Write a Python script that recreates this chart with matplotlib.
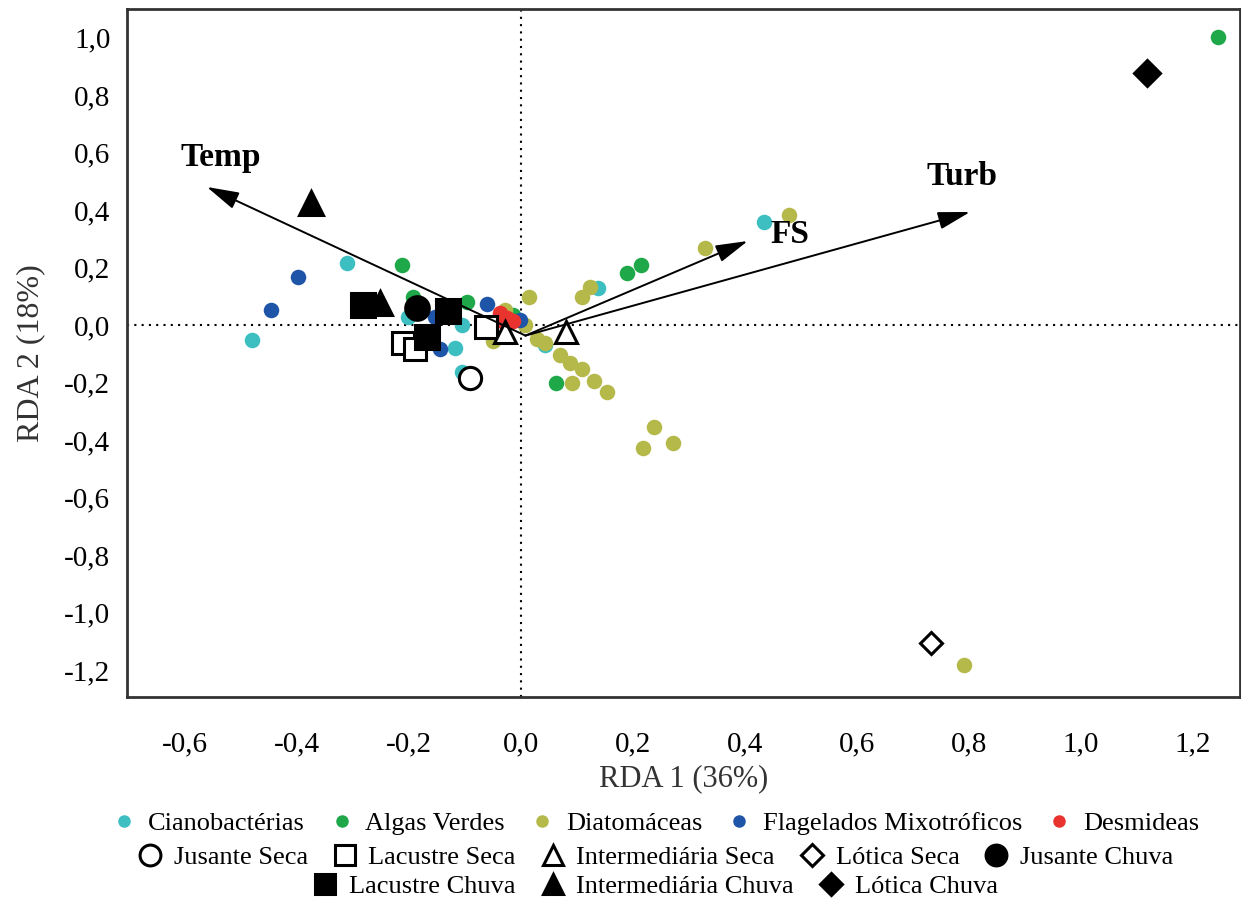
import numpy as np
import matplotlib.pyplot as plt
from matplotlib.lines import Line2D

plt.rcParams['font.family'] = ['Liberation Serif', 'DejaVu Serif']

# species scores (RDA 1, RDA 2) by group
ciano_x = [-0.480, -0.311, -0.202, -0.105, -0.118, -0.105, 0.043, 0.138, 0.434]
ciano_y = [-0.052, 0.216, 0.028, 0.000, -0.080, -0.163, -0.070, 0.129, 0.358]

verdes_x = [1.245, -0.213, -0.193, -0.096, -0.014, 0.063, 0.189, 0.214]
verdes_y = [1.002, 0.209, 0.097, 0.080, 0.035, -0.202, 0.181, 0.209]

diato_x = [0.014, 0.109, 0.123, 0.329, 0.479, 0.791, -0.050, -0.029, 0.007, 0.029,
           0.043, 0.070, 0.088, 0.109, 0.091, 0.130, 0.154, 0.238, 0.218, 0.271]
diato_y = [0.097, 0.097, 0.132, 0.268, 0.383, -1.183, -0.056, 0.052, 0.000, -0.049,
           -0.063, -0.104, -0.132, -0.153, -0.202, -0.195, -0.233, -0.355, -0.428, -0.410]

flag_x = [-0.398, -0.446, -0.061, -0.145, -0.154, -0.002]
flag_y = [0.167, 0.052, 0.073, -0.083, 0.028, 0.017]

desm_x = [-0.038, -0.025, -0.014, -0.030]
desm_y = [0.042, 0.024, 0.014, 0.010]

# site scores
jus_seca = ([-0.091], [-0.184])
lac_seca = ([-0.211, -0.189, -0.063], [-0.063, -0.083, -0.007])
int_seca = ([-0.029, 0.080], [-0.024, -0.024])
lot_seca = ([0.732], [-1.106])
jus_chuva = ([-0.186], [0.059])
lac_chuva = ([-0.282, -0.130, -0.168], [0.070, 0.049, -0.042])
int_chuva = ([-0.375, -0.252], [0.424, 0.077])
lot_chuva = ([1.118], [0.877])

# environmental vectors
env_names = ['Temp', 'FS', 'Turb']
env_x = [-0.561, 0.405, 0.802]
env_y = [0.480, 0.292, 0.393]
env_lab_x = [-0.537, 0.480, 0.787]
env_lab_y = [0.584, 0.313, 0.515]
origin = (0.008, -0.037)

xticks = [-0.6, -0.4, -0.2, 0.0, 0.2, 0.4, 0.6, 0.8, 1.0, 1.2]
yticks = [-1.2, -1.0, -0.8, -0.6, -0.4, -0.2, 0.0, 0.2, 0.4, 0.6, 0.8, 1.0]

c_ciano = '#3dbfc2'
c_verde = '#1fa84a'
c_diato = '#b5b94a'
c_flag = '#1f55a8'
c_desm = '#e8332f'

fig = plt.figure(figsize=(12.41, 9), dpi=100)
ax = fig.add_axes([127 / 1241, 1 - 697 / 900, 1113 / 1241, 688 / 900])

ax.axhline(0, color='black', lw=1.5, ls=(0, (1, 2.5)), zorder=1)
ax.axvline(0, color='black', lw=1.5, ls=(0, (1, 2.5)), zorder=1)

s = 125
ax.scatter(ciano_x, ciano_y, s=s, c=c_ciano, zorder=2, lw=0)
ax.scatter(verdes_x, verdes_y, s=s, c=c_verde, zorder=2, lw=0)
ax.scatter(diato_x, diato_y, s=s, c=c_diato, zorder=2, lw=0)
ax.scatter(flag_x, flag_y, s=s, c=c_flag, zorder=2, lw=0)
ax.scatter(desm_x, desm_y, s=s, c=c_desm, zorder=3, lw=0)

kw = dict(ls='none', mec='black', mew=2.2, zorder=4)
ax.plot(*jus_seca, marker='o', ms=16, mfc='white', **kw)
ax.plot(*lac_seca, marker='s', ms=16, mfc='white', **kw)
ax.plot(*int_seca, marker='^', ms=16, mfc='white', **kw)
ax.plot(*lot_seca, marker='D', ms=11, mfc='white', **kw)
ax.plot(*jus_chuva, marker='o', ms=17, mfc='black', **kw)
ax.plot(*lac_chuva, marker='s', ms=17, mfc='black', **kw)
ax.plot(*int_chuva, marker='^', ms=17, mfc='black', **kw)
ax.plot(*lot_chuva, marker='D', ms=13, mfc='black', **kw)

for name, x, y, lx, ly in zip(env_names, env_x, env_y, env_lab_x, env_lab_y):
    ax.annotate('', xy=(x, y), xytext=origin,
                arrowprops=dict(arrowstyle='-|>,head_length=1.1,head_width=0.3',
                                color='black', lw=1.4, shrinkA=0, shrinkB=0,
                                mutation_scale=18), zorder=5)
    ax.text(lx, ly, name, fontsize=24, fontweight='bold', ha='center', va='center', zorder=6)

ax.set_xlim(-0.7036, 1.284)
ax.set_ylim(-1.294, 1.099)
ax.set_xticks(xticks)
ax.set_xticklabels([f'{v:.1f}'.replace('.', ',') for v in xticks])
ax.set_yticks(yticks)
ax.set_yticklabels([f'{v:.1f}'.replace('.', ',') for v in yticks])
ax.tick_params(length=0, labelsize=21)
ax.tick_params(axis='x', pad=25)
ax.tick_params(axis='y', pad=12)
for sp in ax.spines.values():
    sp.set_linewidth(2)
    sp.set_color('#333333')

ax.set_xlabel('RDA 1 (36%)', fontsize=22, color='#333333', labelpad=5)
ax.set_ylabel('RDA 2 (18%)', fontsize=23, color='#333333', labelpad=14)

# legend, three centred rows
def grp(c, lab):
    return Line2D([], [], ls='none', marker='o', ms=8, mfc=c, mec=c, label=lab)

def site(m, fill, lab, ms=15):
    return Line2D([], [], ls='none', marker=m, ms=ms, mfc=fill, mec='black', mew=2.2, label=lab)

row1 = [grp(c_ciano, 'Cianobactérias'), grp(c_verde, 'Algas Verdes'),
        grp(c_diato, 'Diatomáceas'), grp(c_flag, 'Flagelados Mixotróficos'),
        grp(c_desm, 'Desmideas')]
row2 = [site('o', 'white', 'Jusante Seca'), site('s', 'white', 'Lacustre Seca'),
        site('^', 'white', 'Intermediária Seca'), site('D', 'white', 'Lótica Seca', 11),
        site('o', 'black', 'Jusante Chuva')]
row3 = [site('s', 'black', 'Lacustre Chuva'), site('^', 'black', 'Intermediária Chuva'),
        site('D', 'black', 'Lótica Chuva', 11)]

for row, yc in zip([row1, row2, row3], [1 - 823 / 900, 1 - 857 / 900, 1 - 886 / 900]):
    fig.legend(handles=row, loc='center', bbox_to_anchor=(655 / 1241, yc),
               ncol=len(row), frameon=False, fontsize=19, handlelength=1.0,
               handletextpad=0.4, columnspacing=0.9, borderpad=0, borderaxespad=0)

fig.savefig('out.png', dpi=100)
